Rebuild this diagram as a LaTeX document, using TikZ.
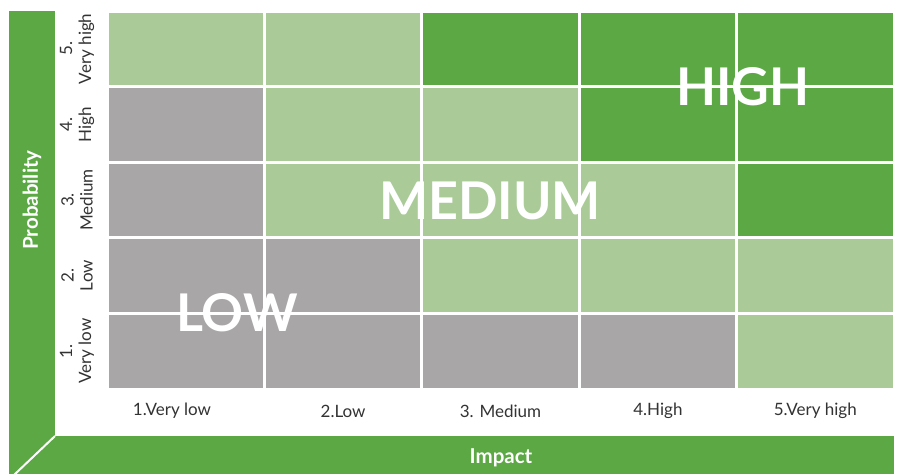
\documentclass[tikz,border=0pt]{standalone}
\usepackage{fontspec}
\setmainfont{Lato}
\begin{document}
\begin{tikzpicture}[x=1pt,y=-1pt,
  cell/.style={draw=white,line width=3pt,minimum width=157.4pt,minimum height=75.6pt,inner sep=0pt,anchor=center},
  dk/.style={cell,fill=dgreen},
  lt/.style={cell,fill=lgreen},
  gr/.style={cell,fill=mgray},
  big/.style={text=white,font=\fontsize{52}{52}\selectfont\bfseries,inner sep=0pt},
  axl/.style={text=txtgray,font=\fontsize{17}{19}\selectfont,inner sep=0pt,align=center},
  ttl/.style={text=white,font=\fontsize{20.5}{20.5}\selectfont\bfseries,inner sep=0pt}]
\definecolor{dgreen}{HTML}{5BA845}
\definecolor{lgreen}{HTML}{AACB98}
\definecolor{mgray}{HTML}{A8A6A7}
\definecolor{txtgray}{HTML}{333333}
\useasboundingbox (0,0) rectangle (897,474);
\fill[white] (0,0) rectangle (897,474);
% side bars
\fill[dgreen] (9,11) rectangle (55,474);
\fill[dgreen] (9,436) rectangle (894,474);
\coordinate (dA) at (55,436);
\coordinate (dB) at (14,475);
\draw[white,line width=2pt] (dA) -- (dB);
% cells
\foreach \r/\cols in {5/{lt,lt,dk,dk,dk},4/{gr,lt,lt,dk,dk},3/{gr,lt,lt,lt,dk},2/{gr,gr,lt,lt,lt},1/{gr,gr,gr,gr,lt}}{
  \foreach \s [count=\c] in \cols {
    \node[\s] (c-\r-\c) at ({107+(\c-0.5)*157.4},{389-(\r-0.5)*75.6}) {};
  }
}
\draw[white,line width=3pt] (107,9.5) -- (895.5,9.5);
% big labels
\node[big] (high) at (743,87) {HIGH};
\node[big] (med) at (490,201) {MEDIUM};
\node[big] (low) at (237,313) {LOW};
% x labels
\node[axl] (x-1) at (172,411) {1.Very low};
\foreach \t [count=\c from 2] in {2.Low,3. Medium,4.High,5.Very high}{
  \node[axl] (x-\c) at ({107+(\c-0.5)*157.4},411) {\t};
}
% y labels
\foreach \n/\t [count=\r] in {1./Very low,2./Low,3./Medium,4./High,5./Very high}{
  \node[axl,rotate=90] (y-\r) at (77,{389-(\r-0.5)*75.6}) {\n\\\t};
}
\node[ttl,rotate=90] (prob) at (32,200) {Probability};
\node[ttl] (imp) at (501,458) {Impact};
\end{tikzpicture}
\end{document}
